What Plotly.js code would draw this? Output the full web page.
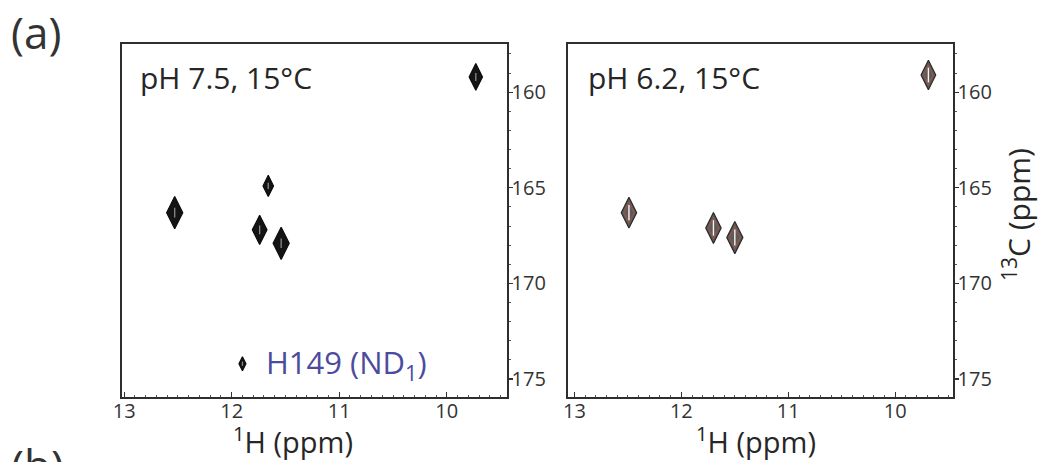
<!DOCTYPE html>
<html>
<head>
<meta charset="utf-8">
<script src="https://cdn.plot.ly/plotly-3.0.1.min.js"></script>
<style>
  html, body { margin: 0; padding: 0; background: #fff; }
  #chart { width: 1040px; height: 462px; }
</style>
</head>
<body>
<div id="chart"></div>
<script>
// ---- data ----
const panelTitles = ["pH 7.5, 15°C", "pH 6.2, 15°C"];
// pH 7.5 peaks: 1H (ppm) and 13C (ppm)
const xH_75 = [9.73, 12.53, 11.66, 11.74, 11.54];
const yC_75 = [159.2, 166.3, 164.9, 167.2, 167.9];
// H149 (ND1) peak at pH 7.5
const xH_H149 = [11.90];
const yC_H149 = [174.2];
const labelH149 = "H149 (ND<sub>1</sub>)";
// pH 6.2 peaks
const xH_62 = [9.69, 12.49, 11.70, 11.50];
const yC_62 = [159.1, 166.3, 167.1, 167.6];
// axis ticks
const xTickVals = [13, 12, 11, 10];
const xTickText = ["13", "12", "11", "10"];
const yTickVals = [160, 165, 170, 175];
const yTickText = ["160", "165", "170", "175"];

// ---- styles ----
const FONT = "Open Sans, Noto Sans, sans-serif";
const INK = "#262626";
const size75 = [19, 23, 15, 21, 23];
const size149 = [10];
const size62 = [21, 22, 22, 23];

function filledPeaks(x, y, sizes, xa, ya) {
  return [
    { type: "scatter", mode: "markers", x: x, y: y, xaxis: xa, yaxis: ya,
      marker: { symbol: "diamond-tall", size: sizes, color: "#141414", opacity: 1,
                line: { color: "#0d0d0d", width: 1.2 } },
      hoverinfo: "x+y", showlegend: false },
    { type: "scatter", mode: "markers", x: x, y: y, xaxis: xa, yaxis: ya,
      marker: { symbol: "line-ns", size: sizes.map(s => s * 0.3), opacity: 1,
                line: { color: "#8a8a8a", width: 1.3 } },
      hoverinfo: "skip", showlegend: false }
  ];
}
function contourPeaks(x, y, sizes, xa, ya) {
  return [
    { type: "scatter", mode: "markers", x: x, y: y, xaxis: xa, yaxis: ya,
      marker: { symbol: "diamond-tall", size: sizes, color: "#5a5a5a", opacity: 1,
                line: { color: "#2a2a2a", width: 1.2 } },
      hoverinfo: "x+y", showlegend: false },
    { type: "scatter", mode: "markers", x: x, y: y, xaxis: xa, yaxis: ya,
      marker: { symbol: "diamond-tall-open", size: sizes.map(s => s * 0.66), opacity: 1,
                line: { color: "#111", width: 1.5 } },
      hoverinfo: "skip", showlegend: false },
    { type: "scatter", mode: "markers", x: x, y: y, xaxis: xa, yaxis: ya,
      marker: { symbol: "line-ns", size: sizes.map(s => s * 0.5), opacity: 1,
                line: { color: "#f4f4f4", width: 1.4 } },
      hoverinfo: "skip", showlegend: false }
  ];
}

const traces = []
  .concat(filledPeaks(xH_75, yC_75, size75, "x", "y"))
  .concat(filledPeaks(xH_H149, yC_H149, size149, "x", "y"))
  .concat(contourPeaks(xH_62, yC_62, size62, "x2", "y2"));

const W = 1040, H = 462;
const px = v => v / W;
const py = v => 1 - v / H;

function xAxis(domain, range, anchor) {
  return {
    domain: domain, range: range, anchor: anchor,
    tickmode: "array", tickvals: xTickVals, ticktext: xTickText,
    ticks: "inside", ticklen: 5, tickwidth: 1.2, tickcolor: "#333",
    ticklabelstandoff: -5,
    minor: { dtick: 0.1, tick0: 9, ticks: "inside", ticklen: 2.5, tickwidth: 1, tickcolor: "#555" },
    showline: true, mirror: true, linecolor: "#2e2e2e", linewidth: 1.6,
    showgrid: false, zeroline: false,
    tickfont: { family: FONT, size: 20, color: "#333" }
  };
}
function yAxis(domain, range, anchor) {
  return {
    domain: domain, range: range, anchor: anchor, side: "right",
    tickmode: "array", tickvals: yTickVals, ticktext: yTickText,
    ticks: "outside", ticklen: 4, tickwidth: 1.2, tickcolor: "#333",
    ticklabelstandoff: -5,
    minor: { dtick: 1, tick0: 155, ticks: "outside", ticklen: 2.5, tickwidth: 1, tickcolor: "#555" },
    showline: true, mirror: true, linecolor: "#2e2e2e", linewidth: 1.6,
    showgrid: false, zeroline: false,
    tickfont: { family: FONT, size: 20, color: "#333" }
  };
}

const yDom = [1 - 397 / H, 1 - 44 / H];

const layout = {
  width: W, height: H,
  margin: { l: 0, r: 0, t: 0, b: 0 },
  paper_bgcolor: "#fff", plot_bgcolor: "#fff",
  showlegend: false,
  font: { family: FONT, color: INK },
  xaxis: xAxis([px(122), px(507)], [13.02, 9.44], "y"),
  yaxis: yAxis(yDom, [175.94, 157.48], "x"),
  xaxis2: xAxis([px(568), px(953)], [13.06, 9.46], "y2"),
  yaxis2: yAxis(yDom, [175.94, 157.48], "x2"),
  annotations: [
    { text: "(a)", xref: "paper", yref: "paper", x: px(9), y: py(0),
      xanchor: "left", yanchor: "top", showarrow: false,
      font: { family: FONT, size: 44, color: "#333" } },
    { text: "(b)", xref: "paper", yref: "paper", x: px(9), y: py(433),
      xanchor: "left", yanchor: "top", showarrow: false,
      font: { family: FONT, size: 44, color: "#333" } },
    { text: panelTitles[0], xref: "paper", yref: "paper", x: px(138), y: py(78),
      xanchor: "left", yanchor: "middle", showarrow: false,
      font: { family: FONT, size: 30, color: INK } },
    { text: panelTitles[1], xref: "paper", yref: "paper", x: px(586), y: py(78),
      xanchor: "left", yanchor: "middle", showarrow: false,
      font: { family: FONT, size: 30, color: INK } },
    { text: labelH149, xref: "x", yref: "y", x: 11.70, y: yC_H149[0],
      xanchor: "left", yanchor: "middle", showarrow: false,
      font: { family: FONT, size: 31, color: "#4b4c9e" } },
    { text: "<sup>1</sup>H (ppm)", xref: "paper", yref: "paper", x: px(293), y: py(440),
      xanchor: "center", yanchor: "middle", showarrow: false,
      font: { family: FONT, size: 29, color: INK } },
    { text: "<sup>1</sup>H (ppm)", xref: "paper", yref: "paper", x: px(756), y: py(440),
      xanchor: "center", yanchor: "middle", showarrow: false,
      font: { family: FONT, size: 29, color: INK } },
    { text: "<sup>13</sup>C (ppm)", xref: "paper", yref: "paper", x: px(1017), y: py(215),
      xanchor: "center", yanchor: "middle", textangle: -90, showarrow: false,
      font: { family: FONT, size: 30, color: INK } }
  ]
};

Plotly.newPlot("chart", traces, layout, { staticPlot: true, displayModeBar: false });
</script>
</body>
</html>
